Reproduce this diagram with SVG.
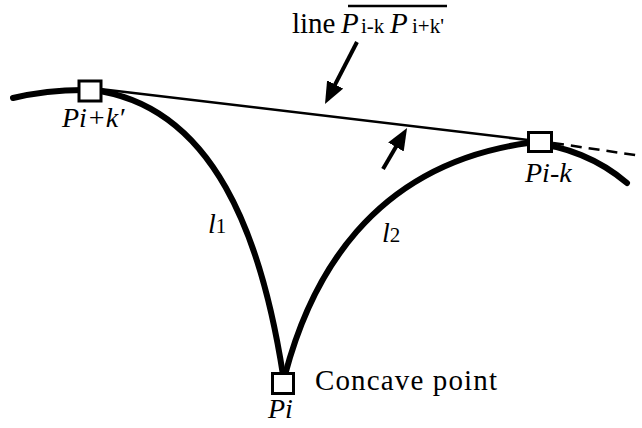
<svg xmlns="http://www.w3.org/2000/svg" width="642" height="428" viewBox="0 0 642 428">
<style>
.curve{fill:none;stroke:#000;stroke-width:6;stroke-linecap:round}
.thin{fill:none;stroke:#000;stroke-width:2.5}
.dash{fill:none;stroke:#000;stroke-width:2.5;stroke-dasharray:11 7}
.arrow{fill:none;stroke:#000;stroke-width:4;marker-end:url(#ah)}
.box{fill:#fff;stroke:#000;stroke-width:3}
.it{font-style:italic}
</style>
<defs>
<marker id="ah" markerUnits="userSpaceOnUse" markerWidth="24" markerHeight="20" refX="12" refY="9" orient="auto">
<path d="M0,0 L22,9 L0,18 z" fill="#000"/>
</marker>
</defs>
<rect width="642" height="428" fill="#fff"/>
<g id="connectors">
<path class="curve" d="M13,98 Q50,89 92,90"/>
<path id="l1" class="curve" d="M92,90 C215,105 262,240 283,375"/>
<path id="l2" class="curve" d="M285,375 C310,280 370,165 528,143"/>
<path class="curve" d="M528,143 C565,145 600,160 627,183"/>
<path class="thin" d="M100,89 L528,140"/>
<path class="dash" d="M553,143 L642,156"/>
<path class="arrow" d="M357,42 L329.6,95.1"/>
<path class="arrow" d="M383,169 L402,136.6"/>
</g>
<g id="node-pik2">
<rect class="box" x="79" y="81" width="22" height="20"/>
<text class="it" x="62" y="127" font-size="28" font-family="Liberation Serif">Pi+k′</text>
</g>
<g id="node-pik">
<rect class="box" x="528.5" y="132.5" width="23" height="19"/>
<text class="it" x="525" y="182" font-size="28" font-family="Liberation Serif">Pi-k</text>
</g>
<g id="node-pi">
<rect class="box" x="272.5" y="373.5" width="21" height="20"/>
<text class="it" x="268" y="418" font-size="28" font-family="Liberation Serif">Pi</text>
<text x="315" y="390" font-size="29" font-family="Liberation Serif" textLength="182">Concave point</text>
</g>
<g id="labels">
<text y="33" font-size="29" font-family="Liberation Serif"><tspan x="292">line</tspan><tspan class="it" x="341">P</tspan><tspan x="361" font-size="21">i-k</tspan><tspan class="it" x="390">P</tspan><tspan x="412" font-size="21">i+k'</tspan></text>
<line x1="348" y1="6" x2="447" y2="6" stroke="#000" stroke-width="2.5"/>
<text y="233" font-size="28" font-family="Liberation Serif"><tspan class="it" x="208">l</tspan><tspan font-size="21">1</tspan></text>
<text y="242" font-size="28" font-family="Liberation Serif"><tspan class="it" x="382">l</tspan><tspan font-size="21">2</tspan></text>
</g>
</svg>
